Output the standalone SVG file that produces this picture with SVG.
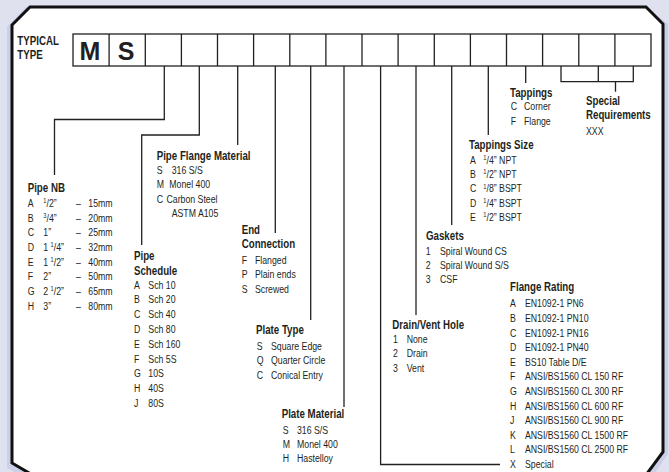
<svg xmlns="http://www.w3.org/2000/svg" width="669" height="472" viewBox="0 0 669 472">
<style>
.t{font-family:"Liberation Sans",Arial,sans-serif;font-size:10.8px;fill:#231f20}
.h{font-weight:bold;font-size:12px}
.big{font-family:"Liberation Sans",Arial,sans-serif;font-weight:bold;font-size:25px;fill:#231f20;text-anchor:middle}
.c{fill:none;stroke:#231f20;stroke-width:1.3}
.box{fill:#fff;stroke:#231f20;stroke-width:1.3}
</style>
<rect width="669" height="472" fill="#dfe1ef"/>
<polygon points="7,27 26,7 646,7 668,24 668,454 650,480 34,482 7,468" fill="#cbcfe7"/>
<polygon points="12,25 30,7 646,7 663,24 663,452 643,479 36,477 12,463" fill="#fff" stroke="#111" stroke-width="3"/>

<g id="header" class="t h" transform="translate(17.3,0) scale(.81,1)">
<text x="0" y="45.5">TYPICAL</text>
<text x="0" y="59.5">TYPE</text>
</g>
<g id="code-boxes">
<rect class="box" x="73" y="34" width="578" height="32"/>
<path class="c" d="M109.1,34V66M145.3,34V66M181.4,34V66M217.5,34V66M253.6,34V66M289.8,34V66M325.9,34V66M362,34V66M398.1,34V66M434.3,34V66M470.4,34V66M506.5,34V66M542.6,34V66M578.8,34V66M614.9,34V66"/>
<text class="big" x="90" y="60">M</text>
<text class="big" x="126" y="60">S</text>
</g>

<g id="connectors">
<path class="c" d="M164.3,66V119.5H54.5V175"/>
<path class="c" d="M199.3,66V135H141.7V245"/>
<path class="c" d="M237.7,66V145"/>
<path class="c" d="M275.3,66V233"/>
<path class="c" d="M310.7,66V320"/>
<path class="c" d="M344,66V407"/>
<path class="c" d="M380.6,66V464.5H500"/>
<path class="c" d="M416,66V315"/>
<path class="c" d="M451.7,66V225"/>
<path class="c" d="M488.3,66V135"/>
<path class="c" d="M525.7,66V83"/>
<path class="c" d="M561,66V81.7H633.3V66M598.3,66V81.7M615.5,81.7V91.7"/>
</g>

<g id="pipe-nb" class="t" transform="translate(27.7,0) scale(.81,1)">
<text class="h" x="0" y="192">Pipe NB</text>
<text x="0" y="207">A</text><text x="19.3" y="207"><tspan font-size="7" dy="-3.5">1</tspan><tspan dy="3.5">/2”</tspan></text><text x="59.6" y="207">–</text><text x="74.8" y="207">15mm</text>
<text x="0" y="221.7">B</text><text x="19.3" y="221.7"><tspan font-size="7" dy="-3.5">3</tspan><tspan dy="3.5">/4”</tspan></text><text x="59.6" y="221.7">–</text><text x="74.8" y="221.7">20mm</text>
<text x="0" y="236.3">C</text><text x="19.3" y="236.3">1”</text><text x="59.6" y="236.3">–</text><text x="74.8" y="236.3">25mm</text>
<text x="0" y="251">D</text><text x="19.3" y="251">1 <tspan font-size="7" dy="-3.5">1</tspan><tspan dy="3.5">/4”</tspan></text><text x="59.6" y="251">–</text><text x="74.8" y="251">32mm</text>
<text x="0" y="265.7">E</text><text x="19.3" y="265.7">1 <tspan font-size="7" dy="-3.5">1</tspan><tspan dy="3.5">/2”</tspan></text><text x="59.6" y="265.7">–</text><text x="74.8" y="265.7">40mm</text>
<text x="0" y="280.3">F</text><text x="19.3" y="280.3">2”</text><text x="59.6" y="280.3">–</text><text x="74.8" y="280.3">50mm</text>
<text x="0" y="295">G</text><text x="19.3" y="295">2 <tspan font-size="7" dy="-3.5">1</tspan><tspan dy="3.5">/2”</tspan></text><text x="59.6" y="295">–</text><text x="74.8" y="295">65mm</text>
<text x="0" y="309.7">H</text><text x="19.3" y="309.7">3”</text><text x="59.6" y="309.7">–</text><text x="74.8" y="309.7">80mm</text>
</g>

<g id="pipe-schedule" class="t" transform="translate(134,0) scale(.81,1)">
<text class="h" x="0" y="260.5">Pipe</text>
<text class="h" x="0" y="275.5">Schedule</text>
<text x="0" y="288.7">A</text><text x="17.7" y="288.7">Sch 10</text>
<text x="0" y="303.5">B</text><text x="17.7" y="303.5">Sch 20</text>
<text x="0" y="318.3">C</text><text x="17.7" y="318.3">Sch 40</text>
<text x="0" y="333">D</text><text x="17.7" y="333">Sch 80</text>
<text x="0" y="347.8">E</text><text x="17.7" y="347.8">Sch 160</text>
<text x="0" y="362.6">F</text><text x="17.7" y="362.6">Sch 5S</text>
<text x="0" y="377.4">G</text><text x="17.7" y="377.4">10S</text>
<text x="0" y="392.2">H</text><text x="17.7" y="392.2">40S</text>
<text x="0" y="407">J</text><text x="17.7" y="407">80S</text>
</g>

<g id="pipe-flange-material" class="t" transform="translate(156.7,0) scale(.81,1)">
<text class="h" x="0" y="159.5">Pipe Flange Material</text>
<text x="0" y="174">S</text><text x="18.5" y="174">316 S/S</text>
<text x="0" y="188.5">M</text><text x="15.6" y="188.5">Monel 400</text>
<text x="0" y="203">C</text><text x="12.1" y="203">Carbon Steel</text>
<text x="18.5" y="217.5">ASTM A105</text>
</g>

<g id="end-connection" class="t" transform="translate(241.7,0) scale(.81,1)">
<text class="h" x="0" y="233.7">End</text>
<text class="h" x="0" y="248">Connection</text>
<text x="0" y="263.7">F</text><text x="16.4" y="263.7">Flanged</text>
<text x="0" y="278">P</text><text x="16.4" y="278">Plain ends</text>
<text x="0" y="293">S</text><text x="16.4" y="293">Screwed</text>
</g>

<g id="plate-type" class="t" transform="translate(256,0) scale(.81,1)">
<text class="h" x="0" y="334.3">Plate Type</text>
<text x="0.9" y="349.7">S</text><text x="18.5" y="349.7">Square Edge</text>
<text x="0.9" y="364">Q</text><text x="18.5" y="364">Quarter Circle</text>
<text x="0.9" y="378.7">C</text><text x="18.5" y="378.7">Conical Entry</text>
</g>

<g id="plate-material" class="t" transform="translate(281.7,0) scale(.81,1)">
<text class="h" x="0" y="417.7">Plate Material</text>
<text x="1.2" y="433.7">S</text><text x="18.9" y="433.7">316 S/S</text>
<text x="1.2" y="448.3">M</text><text x="18.9" y="448.3">Monel 400</text>
<text x="1.2" y="462.5">H</text><text x="18.9" y="462.5">Hastelloy</text>
</g>

<g id="drain-vent-hole" class="t" transform="translate(392.3,0) scale(.81,1)">
<text class="h" x="0" y="329.3">Drain/Vent Hole</text>
<text x="0.9" y="343">1</text><text x="17.8" y="343">None</text>
<text x="0.9" y="357.5">2</text><text x="17.8" y="357.5">Drain</text>
<text x="0.9" y="372">3</text><text x="17.8" y="372">Vent</text>
</g>

<g id="gaskets" class="t" transform="translate(425.7,0) scale(.81,1)">
<text class="h" x="0.4" y="239.7">Gaskets</text>
<text x="0" y="254.7">1</text><text x="17.7" y="254.7">Spiral Wound CS</text>
<text x="0" y="269.3">2</text><text x="17.7" y="269.3">Spiral Wound S/S</text>
<text x="0" y="283.5">3</text><text x="17.7" y="283.5">CSF</text>
</g>

<g id="tappings-size" class="t" transform="translate(469,0) scale(.81,1)">
<text class="h" x="0" y="148.7">Tappings Size</text>
<text x="1.2" y="163.7">A</text><text x="17.7" y="163.7"><tspan font-size="7" dy="-3.5">1</tspan><tspan dy="3.5">/4” NPT</tspan></text>
<text x="1.2" y="178">B</text><text x="17.7" y="178"><tspan font-size="7" dy="-3.5">1</tspan><tspan dy="3.5">/2” NPT</tspan></text>
<text x="1.2" y="192.5">C</text><text x="17.7" y="192.5"><tspan font-size="7" dy="-3.5">1</tspan><tspan dy="3.5">/8” BSPT</tspan></text>
<text x="1.2" y="206.8">D</text><text x="17.7" y="206.8"><tspan font-size="7" dy="-3.5">1</tspan><tspan dy="3.5">/4” BSPT</tspan></text>
<text x="1.2" y="221">E</text><text x="17.7" y="221"><tspan font-size="7" dy="-3.5">1</tspan><tspan dy="3.5">/2” BSPT</tspan></text>
</g>

<g id="tappings" class="t" transform="translate(510,0) scale(.81,1)">
<text class="h" x="0" y="97">Tappings</text>
<text x="0.9" y="110.5">C</text><text x="17.3" y="110.5">Corner</text>
<text x="0.9" y="125.3">F</text><text x="17.3" y="125.3">Flange</text>
</g>

<g id="special-requirements" class="t" transform="translate(586,0) scale(.81,1)">
<text class="h" x="0" y="105.3">Special</text>
<text class="h" x="0" y="119">Requirements</text>
<text x="0" y="134.7">XXX</text>
</g>

<g id="flange-rating" class="t" transform="translate(510,0) scale(.81,1)">
<text class="h" x="0" y="291">Flange Rating</text>
<text x="0" y="307.5">A</text><text x="18.5" y="307.5">EN1092-1 PN6</text>
<text x="0" y="322.1">B</text><text x="18.5" y="322.1">EN1092-1 PN10</text>
<text x="0" y="336.7">C</text><text x="18.5" y="336.7">EN1092-1 PN16</text>
<text x="0" y="351.3">D</text><text x="18.5" y="351.3">EN1092-1 PN40</text>
<text x="0" y="365.9">E</text><text x="18.5" y="365.9">BS10 Table D/E</text>
<text x="0" y="380.5">F</text><text x="18.5" y="380.5">ANSI/BS1560 CL 150 RF</text>
<text x="0" y="395.1">G</text><text x="18.5" y="395.1">ANSI/BS1560 CL 300 RF</text>
<text x="0" y="409.7">H</text><text x="18.5" y="409.7">ANSI/BS1560 CL 600 RF</text>
<text x="0" y="424.3">J</text><text x="18.5" y="424.3">ANSI/BS1560 CL 900 RF</text>
<text x="0" y="438.9">K</text><text x="18.5" y="438.9">ANSI/BS1560 CL 1500 RF</text>
<text x="0" y="453.5">L</text><text x="18.5" y="453.5">ANSI/BS1560 CL 2500 RF</text>
<text x="0" y="468.1">X</text><text x="18.5" y="468.1">Special</text>
</g>
</svg>
